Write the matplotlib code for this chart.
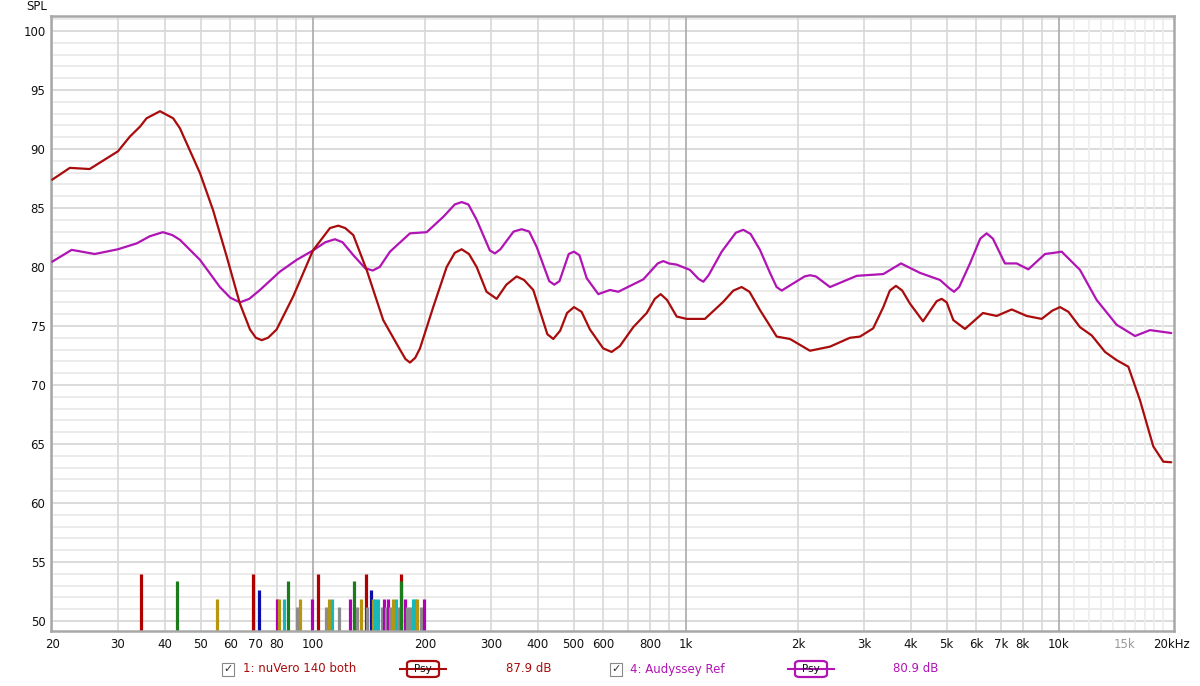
import matplotlib
matplotlib.use("Agg")
import matplotlib.pyplot as plt
from matplotlib.patches import FancyBboxPatch, Rectangle
from matplotlib.lines import Line2D

# ---------------- data ----------------
red_freq = [20, 22.3, 25.2, 30.0, 32.3, 34.4, 35.8, 38.9, 42.2, 44.0, 49.8, 54.0, 58.7, 63.7,
            67.8, 70.3, 72.9, 75.8, 79.9, 88.5, 100, 111.1, 116.9, 122, 128.3, 139.3, 154.3,
            171.1, 177, 182, 188, 193.6, 210.1, 228.3, 240, 250.4, 262, 274.7, 292, 310.8,
            330, 351.7, 368, 389.6, 425, 440.9, 460, 480, 500.9, 525, 552.9, 600, 632,
            665, 722.3, 784.8, 825, 855.4, 890, 944.3, 1004, 1124, 1259, 1340, 1410, 1480,
            1579, 1751, 1900, 2150, 2433, 2752, 2928, 3176, 3381, 3520, 3656, 3800, 3985,
            4320, 4700, 4847, 5000, 5208, 5598, 6255, 6808, 7468, 8193, 8987, 9600, 10063,
            10600, 11385, 12238, 13288, 14279, 15342, 16491, 17896, 19040, 20000]
red_spl = [87.4, 88.4, 88.3, 89.8, 91.05, 91.9, 92.6, 93.2, 92.6, 91.75, 87.95, 84.8, 80.9, 76.9,
           74.7, 74.0, 73.8, 74.0, 74.7, 77.5, 81.4, 83.3, 83.5, 83.3, 82.7, 79.75, 75.5,
           73.0, 72.2, 71.9, 72.3, 73.1, 76.6, 80.0, 81.2, 81.5, 81.1, 80.0, 77.9, 77.3,
           78.5, 79.2, 78.9, 78.05, 74.3, 73.9, 74.6, 76.1, 76.6, 76.2, 74.7, 73.1, 72.8,
           73.3, 74.9, 76.1, 77.3, 77.7, 77.2, 75.8, 75.6, 75.6, 77.05, 78.0, 78.3, 77.9,
           76.35, 74.1, 73.9, 72.9, 73.25, 74.0, 74.1, 74.8, 76.6, 78.0, 78.4, 78.0, 76.9,
           75.4, 77.1, 77.3, 77.0, 75.5, 74.75, 76.1, 75.85, 76.4, 75.85, 75.6, 76.3, 76.6,
           76.2, 74.9, 74.2, 72.8, 72.1, 71.55, 68.7, 64.8, 63.5, 63.45]

mag_freq = [20, 22.55, 26.0, 30.0, 33.7, 36.5, 39.6, 42.0, 44.0, 49.8, 56.3, 60.0, 63.7, 67.5,
            72.1, 81.5, 90.4, 100, 108, 114.5, 120, 128.3, 138, 144.6, 151, 160.9, 182,
            201.8, 223.6, 240, 250.4, 261, 274.7, 298, 307.5, 318, 345, 362.7, 380, 397.9,
            430, 443.6, 458, 485, 500.9, 518, 541.8, 582, 625.6, 658.5, 768.5, 840, 869.4,
            900, 944.3, 1025, 1080, 1113, 1150, 1247, 1360, 1424, 1490, 1579, 1680, 1750,
            1806, 1870, 2080, 2150, 2230, 2433, 2869, 3381, 3771, 4240, 4797, 5080, 5231,
            5400, 5773, 6150, 6400, 6650, 7165, 7701, 8276, 9173, 9700, 10167, 11385,
            12620, 14279, 15991, 17540, 20000]
mag_spl = [80.45, 81.45, 81.1, 81.5, 82.0, 82.6, 82.95, 82.7, 82.3, 80.6, 78.3, 77.4, 77.0, 77.3,
           78.05, 79.6, 80.6, 81.4, 82.1, 82.35, 82.1, 81.0, 79.9, 79.7, 80.0, 81.3, 82.85,
           82.95, 84.25, 85.3, 85.5, 85.3, 84.0, 81.4, 81.15, 81.5, 83.0, 83.2, 83.0, 81.7,
           78.8, 78.5, 78.8, 81.1, 81.3, 81.0, 79.05, 77.7, 78.05, 77.9, 78.95, 80.3, 80.5,
           80.3, 80.2, 79.75, 79.0, 78.75, 79.3, 81.3, 82.9, 83.15, 82.8, 81.45, 79.5, 78.3,
           78.0, 78.3, 79.2, 79.3, 79.2, 78.3, 79.25, 79.4, 80.3, 79.5, 78.9, 78.2, 77.9,
           78.3, 80.3, 82.4, 82.85, 82.4, 80.3, 80.3, 79.8, 81.1, 81.2, 81.3, 79.75,
           77.2, 75.1, 74.15, 74.65, 74.4]

# ringing / resonance markers at the bottom
bar_freq = [34.5, 43.1, 55.2, 68.9, 71.8, 79.9, 81.2, 83.8, 85.9, 90.8, 92.3,
            99.6, 103.3, 108.4, 110.6, 112.2, 117.6, 125.6, 128.8, 131.4, 134.4,
            138.4, 139.7, 142.9, 144.5, 146.6, 149.7, 152.9, 155.4, 157.0, 159.2,
            160.9, 163.7, 167.0, 170.5, 172.1, 172.1, 176.7, 178.8, 182.0, 185.6,
            187.7, 190.4, 194.4, 198.5]
bar_top = [54.0, 53.4, 51.9, 54.0, 52.65, 51.9, 51.9, 51.9, 53.4, 51.2, 51.9,
           51.9, 54.0, 51.2, 51.9, 51.9, 51.2, 51.9, 53.4, 51.2, 51.9,
           54.0, 51.2, 52.65, 51.9, 51.9, 51.9, 51.2, 51.9, 51.2, 51.9,
           51.2, 51.9, 51.9, 51.2, 54.0, 53.4, 51.9, 51.2, 51.2, 51.9,
           51.9, 51.9, 51.2, 51.9]
bar_kind = ["r", "g", "y", "r", "b", "m", "y", "c", "g", "k", "y",
            "m", "r", "k", "y", "c", "k", "m", "g", "k", "y",
            "r", "k", "b", "y", "c", "c", "k", "m", "k", "m",
            "k", "y", "c", "k", "r", "g", "m", "k", "k", "c",
            "c", "y", "k", "m"]

xtick_vals = [20, 30, 40, 50, 60, 70, 80, 100, 200, 300, 400, 500, 600, 800,
              1000, 2000, 3000, 4000, 5000, 6000, 7000, 8000, 10000, 15000, 20000]
xtick_text = ["20", "30", "40", "50", "60", "70", "80", "100", "200", "300", "400",
              "500", "600", "800", "1k", "2k", "3k", "4k", "5k", "6k", "7k", "8k",
              "10k", "15k", "20kHz"]
ytick_vals = [50, 55, 60, 65, 70, 75, 80, 85, 90, 95, 100]

legend_names = ["1: nuVero 140 both", "4: Audyssey Ref"]
legend_levels = ["87.9 dB", "80.9 dB"]

# ---------------- style ----------------
RED = "#a80c0c"
MAG = "#b014b4"
bar_colors = {"r": "#b00000", "g": "#1c7c1c", "y": "#b8950e", "b": "#0c0ca8",
              "m": "#b000b4", "c": "#18b8b8", "k": "#8c8c8c"}

W, H = 1200, 686
fig = plt.figure(figsize=(W / 100, H / 100), dpi=100)
fig.patch.set_facecolor("white")
ax = fig.add_axes([51 / W, 1 - 631 / H, (1174 - 51) / W, (631 - 16) / H])
ax.set_xscale("log")
ax.set_xlim(19.85, 20340)
ax.set_ylim(49.15, 101.27)

# grid
for v in range(50, 102):
    col = "#d4d4d4" if v % 5 == 0 else "#e8e8e8"
    ax.axhline(v, color=col, lw=1.2, zorder=0)
for base in (10, 100, 1000):
    for m in range(2, 10):
        f = base * m
        if f < 20:
            continue
        ax.axvline(f, color="#d8d8d8", lw=1.2, zorder=0)
for f in [100, 1000, 10000]:
    ax.axvline(f, color="#aaaaaa", lw=1.2, zorder=0)
for k in range(11, 20):
    ax.axvline(k * 1000, color="#ececec", lw=1.2, zorder=0)

# markers
for f, t, k in zip(bar_freq, bar_top, bar_kind):
    ax.vlines(f, 49.15, t, color=bar_colors[k], lw=2.3, zorder=2)

# curves
ax.plot(mag_freq, mag_spl, color=MAG, lw=1.6, zorder=3, solid_joinstyle="round",
        solid_capstyle="round")
ax.plot(red_freq, red_spl, color=RED, lw=1.6, zorder=4, solid_joinstyle="round",
        solid_capstyle="round")

# axes styling
for s in ax.spines.values():
    s.set_color("#a8a8a8")
    s.set_linewidth(1.8)
ax.set_yticks(ytick_vals)
ax.set_yticklabels([str(v) for v in ytick_vals])
ax.set_xticks(xtick_vals)
ax.set_xticklabels(xtick_text)
ax.minorticks_off()
ax.tick_params(axis="both", length=0, labelsize=8.5, colors="#111111")
ax.tick_params(axis="x", pad=5)
ax.tick_params(axis="y", pad=4)
for lbl in ax.get_xticklabels():
    if lbl.get_text() == "15k":
        lbl.set_color("#9a9a9a")

fig.text(37 / W, 1 - 7 / H, "SPL", fontsize=8.5, ha="center", va="center", color="#111111")

# legend row
ly = 1 - 669 / H

def checkbox(xc):
    fig.patches.append(Rectangle(((xc - 6) / W, ly - 6.5 / H), 12 / W, 13 / H,
                                 transform=fig.transFigure, facecolor="white",
                                 edgecolor="#888888", lw=0.8))
    fig.text(xc / W, ly, "\u2713", fontsize=8, ha="center", va="center", color="#333333")

def psy(xc, color):
    fig.lines.append(Line2D([(xc - 23) / W, (xc + 23) / W], [ly, ly],
                            transform=fig.transFigure, color=color, lw=1.5))
    fig.patches.append(FancyBboxPatch(((xc - 16) / W, ly - 8 / H), 32 / W, 16 / H,
                                      boxstyle="round,pad=0,rounding_size=0.004",
                                      transform=fig.transFigure, facecolor="white",
                                      edgecolor=color, lw=1.6))
    fig.text(xc / W, ly, "Psy", fontsize=7.5, ha="center", va="center", color="#111111")

checkbox(228)
fig.text(243 / W, ly, legend_names[0], fontsize=8.5, ha="left", va="center", color=RED)
psy(423, RED)
fig.text(529 / W, ly, legend_levels[0], fontsize=8.5, ha="center", va="center", color=RED)

checkbox(616)
fig.text(630 / W, ly, legend_names[1], fontsize=8.5, ha="left", va="center", color=MAG)
psy(811, MAG)
fig.text(916 / W, ly, legend_levels[1], fontsize=8.5, ha="center", va="center", color=MAG)

fig.savefig("out.png", dpi=100, facecolor="white")
